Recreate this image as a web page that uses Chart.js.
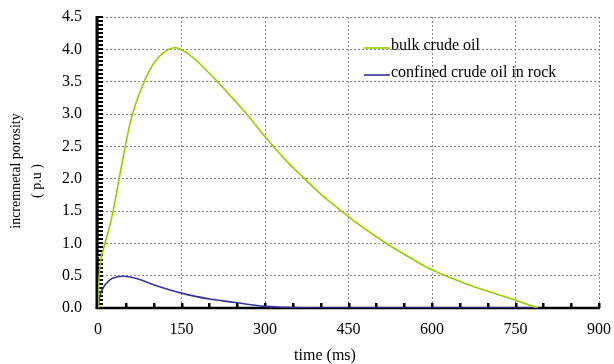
<!DOCTYPE html>
<html>
<head>
<meta charset="utf-8">
<script src="https://cdn.jsdelivr.net/npm/chart.js@4/dist/chart.umd.min.js"></script>
<style>
  html, body { margin: 0; padding: 0; background: #fff; }
  #wrap { width: 614px; height: 364px; }
</style>
</head>
<body>
<div id="wrap"><canvas id="porosity" width="614" height="364"></canvas></div>
<script>
// T2 relaxation curves (time in ms, incremental porosity in p.u)
const bulkTime = [0, 2, 5, 10, 15, 22, 29, 38, 49, 62, 83, 105, 134, 160, 200, 240, 267, 300, 340, 371, 400, 430, 470, 514, 560, 600, 650, 700, 750, 790];
const bulkPorosity = [0, 0.45, 0.75, 0.92, 1.08, 1.3, 1.58, 2.0, 2.5, 3.0, 3.5, 3.84, 4.02, 3.94, 3.63, 3.26, 3.0, 2.65, 2.26, 2.0, 1.76, 1.55, 1.28, 1.02, 0.78, 0.59, 0.41, 0.26, 0.12, 0];

const rockTime = [0, 2, 5, 8, 14, 26, 47, 75, 100, 125, 150, 175, 200, 225, 250, 275, 300, 350, 400, 790];
const rockPorosity = [0, 0.12, 0.23, 0.29, 0.37, 0.46, 0.49, 0.44, 0.36, 0.29, 0.23, 0.18, 0.14, 0.11, 0.08, 0.05, 0.025, 0.006, 0, 0];

const seriesNames = ['bulk crude oil', 'confined crude oil in rock'];
const seriesColors = ['#99cc00', '#333399'];

const xTicks = [0, 150, 300, 450, 600, 750, 900];
const xMinorStep = 50;
const yMinorStep = 0.0625;

const FONT = "'Liberation Serif', 'Times New Roman', serif";

function toPoints(xs, ys) {
    return xs.map((x, i) => ({ x: x, y: ys[i] }));
}

// axes with inward ticks, drawn under the curves
const axesPlugin = {
    id: 'porosityAxes',
    beforeDatasetsDraw(chart) {
        const { ctx, chartArea, scales } = chart;
        const x = scales.x, y = scales.y;
        ctx.save();
        ctx.strokeStyle = '#000';
        ctx.fillStyle = '#000';

        // minor ticks on the time axis
        for (let v = xMinorStep; v <= x.max; v += xMinorStep) {
            const px = x.getPixelForValue(v);
            ctx.fillRect(Math.round(px) - 1, chartArea.bottom - 5, 2.5, 5);
        }
        // minor ticks on the porosity axis
        for (let v = yMinorStep; v <= y.max + 1e-9; v += yMinorStep) {
            const py = y.getPixelForValue(v);
            ctx.fillRect(chartArea.left, Math.round(py) - 1, 5, 2);
        }

        ctx.lineWidth = 3;
        ctx.beginPath();
        ctx.moveTo(chartArea.left - 1, chartArea.top - 1);
        ctx.lineTo(chartArea.left - 1, chartArea.bottom);
        ctx.stroke();
        ctx.lineWidth = 2.5;
        ctx.beginPath();
        ctx.moveTo(chartArea.left - 2.5, chartArea.bottom);
        ctx.lineTo(chartArea.right + 1, chartArea.bottom);
        ctx.stroke();
        ctx.restore();
    },
    afterDraw(chart) {
        const { ctx } = chart;
        ctx.save();
        ctx.fillStyle = '#000';

        // legend inside the plot
        ctx.font = '16px ' + FONT;
        ctx.textBaseline = 'middle';
        ctx.textAlign = 'left';
        const rows = [46, 73];
        chart.data.datasets.forEach((ds, i) => {
            ctx.strokeStyle = ds.borderColor;
            ctx.lineWidth = 1.6;
            ctx.beginPath();
            ctx.moveTo(364, rows[i] + 2);
            ctx.lineTo(390, rows[i] + 2);
            ctx.stroke();
            ctx.fillText(ds.label, 391, rows[i]);
        });

        // axis titles
        ctx.textAlign = 'center';
        ctx.fillText('time (ms)', 325, 356);

        ctx.font = '14px ' + FONT;
        ctx.translate(16, 171);
        ctx.rotate(-Math.PI / 2);
        ctx.fillText('incremnetal porosity', 0, 0);
        ctx.fillText('( p.u )', -10, 21);
        ctx.restore();
    }
};

new Chart(document.getElementById('porosity'), {
    type: 'line',
    data: {
        datasets: [{
            label: seriesNames[0],
            data: toPoints(bulkTime, bulkPorosity),
            borderColor: seriesColors[0],
            borderWidth: 1.6,
            pointRadius: 0,
            tension: 0.4,
            fill: false
        }, {
            label: seriesNames[1],
            data: toPoints(rockTime, rockPorosity),
            borderColor: seriesColors[1],
            borderWidth: 1.6,
            pointRadius: 0,
            tension: 0.4,
            fill: false
        }]
    },
    options: {
        responsive: false,
        animation: false,
        layout: {
            padding: { left: 0, right: 15, top: 17, bottom: 0 }
        },
        plugins: {
            legend: { display: false },
            tooltip: { enabled: false }
        },
        scales: {
            x: {
                type: 'linear',
                min: 0,
                max: 900,
                afterBuildTicks: (scale) => {
                    scale.ticks = xTicks.map(v => ({ value: v }));
                },
                afterFit: (scale) => { scale.height = 56; },
                ticks: {
                    padding: 0,
                    color: '#000',
                    font: { family: FONT, size: 16 },
                    maxRotation: 0
                },
                // invisible tick marks only push the labels away from the axis
                grid: { color: '#8a8a8a', lineWidth: 1, drawTicks: true, tickLength: 12, tickColor: 'rgba(0,0,0,0)' },
                border: { display: false, dash: [2, 2] }
            },
            y: {
                min: 0,
                max: 4.5,
                ticks: {
                    stepSize: 0.5,
                    padding: 0,
                    color: '#000',
                    font: { family: FONT, size: 16 },
                    callback: (v) => v.toFixed(1)
                },
                afterFit: (scale) => { scale.width = 98; },
                grid: { color: '#8a8a8a', lineWidth: 1, drawTicks: true, tickLength: 16, tickColor: 'rgba(0,0,0,0)' },
                border: { display: false, dash: [2, 2] }
            }
        }
    },
    plugins: [axesPlugin]
});
</script>
</body>
</html>
